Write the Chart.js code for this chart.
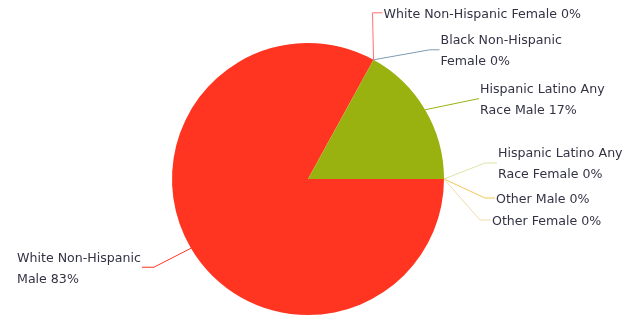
<!DOCTYPE html>
<html>
<head>
<meta charset="utf-8">
<script src="https://cdn.jsdelivr.net/npm/chart.js@4"></script>
<style>
  body { margin: 0; background: #fff; }
  canvas { display: block; }
</style>
</head>
<body>
<canvas id="chartPie" width="641" height="320"></canvas>
<script>
// data
const categories = [
    'White Non-Hispanic Male',
    'White Non-Hispanic Female',
    'Black Non-Hispanic Female',
    'Hispanic Latino Any Race Male',
    'Hispanic Latino Any Race Female',
    'Other Male',
    'Other Female'
];
const percents = [83, 0, 0, 17, 0, 0, 0];

const colors = ['#FF3521', '#FF7070', '#7F9AB4', '#9AB20F', '#DCE5A6', '#F2C65A', '#F1DCA8'];

// leader line layout, relative to the slice anchor point on the rim
// dx/dy = elbow, ex = horizontal tail, wrap = max text width
const labelLayout = [
    { dx: -37, dy: 19, ex: -12, wrap: 145 },
    { dx: -1, dy: -47, ex: 10, wrap: 240 },
    { dx: 56, dy: -10, ex: 10, wrap: 145 },
    { dx: 53, dy: -11, ex: 1, wrap: 145 },
    { dx: 41, dy: -16, ex: 12, wrap: 145 },
    { dx: 41, dy: 19, ex: 10, wrap: 145 },
    { dx: 36, dy: 41, ex: 11, wrap: 145 }
];

const FONT = '12.6px "DejaVu Sans", Verdana, sans-serif';
const LINE_H = 21;

function wrapText(ctx, text, maxW) {
    const words = text.split(' ');
    const lines = [];
    let cur = '';
    words.forEach(w => {
        const test = cur ? cur + ' ' + w : w;
        if (cur && ctx.measureText(test).width > maxW) {
            lines.push(cur);
            cur = w;
        } else {
            cur = test;
        }
    });
    if (cur) lines.push(cur);
    return lines;
}

const leaderLabels = {
    id: 'leaderLabels',
    afterDatasetsDraw(chart) {
        const ctx = chart.ctx;
        const meta = chart.getDatasetMeta(0);
        ctx.save();
        ctx.font = FONT;
        meta.data.forEach((arc, i) => {
            const p = arc.getProps(['x', 'y', 'startAngle', 'endAngle', 'outerRadius'], true);
            const mid = (p.startAngle + p.endAngle) / 2;
            const ax = p.x + Math.cos(mid) * p.outerRadius;
            const ay = p.y + Math.sin(mid) * p.outerRadius;
            const L = labelLayout[i];
            const bx = ax + L.dx, by = ay + L.dy;
            const cx = bx + L.ex;

            ctx.strokeStyle = colors[i];
            ctx.lineWidth = 1;
            ctx.beginPath();
            ctx.moveTo(ax, ay);
            ctx.lineTo(bx, by);
            ctx.lineTo(cx, by);
            ctx.stroke();

            const lines = wrapText(ctx, categories[i] + ' ' + percents[i] + '%', L.wrap);
            const blockW = Math.max(...lines.map(l => ctx.measureText(l).width));
            const left = L.ex < 0 ? cx - 1 - blockW : cx + 1;
            const top = by - (lines.length - 1) * LINE_H / 2 + 1.5;
            ctx.fillStyle = '#333345';
            ctx.textAlign = 'left';
            ctx.textBaseline = 'middle';
            lines.forEach((l, k) => ctx.fillText(l, left, top + k * LINE_H));
        });
        ctx.restore();
    }
};

new Chart(document.getElementById('chartPie'), {
    type: 'pie',
    data: {
        labels: categories,
        datasets: [{
            data: percents,
            backgroundColor: colors,
            borderWidth: 0
        }]
    },
    options: {
        responsive: false,
        animation: false,
        rotation: 90,
        layout: { padding: { left: 172, right: 197, top: 43, bottom: 5 } },
        plugins: {
            legend: { display: false },
            tooltip: { enabled: false }
        }
    },
    plugins: [leaderLabels]
});
</script>
</body>
</html>
